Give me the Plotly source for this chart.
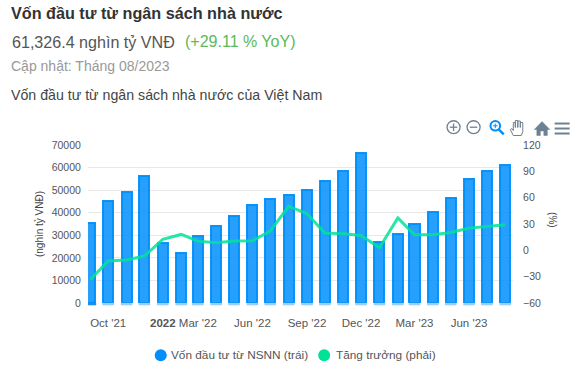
import datetime as dt
import plotly.graph_objects as go

W, H = 580, 375
L, R, T, B = 88, 512.7, 144.5, 302.7

months = ["2021-09-01","2021-10-01","2021-11-01","2021-12-01","2022-01-01","2022-02-01","2022-03-01","2022-04-01",
          "2022-05-01","2022-06-01","2022-07-01","2022-08-01","2022-09-01","2022-10-01","2022-11-01","2022-12-01",
          "2023-01-01","2023-02-01","2023-03-01","2023-04-01","2023-05-01","2023-06-01","2023-07-01","2023-08-01"]
capital = [35600,45000,49300,56400,26500,22300,29800,34200,38700,43500,46000,47800,
           50200,54000,58600,66400,27200,30400,35100,40400,46600,54900,58600,61326.4]
growth = [-33.4,-12.2,-11,-6.5,12.5,18.1,10.5,8.7,10.5,11,21.9,50,
          41.7,19.6,19,17,3,37,17.8,17.8,20.4,25.3,27.2,29.11]
tick_dates = ["2021-10-01","2022-01-01","2022-03-01","2022-06-01","2022-09-01","2022-12-01","2023-03-01","2023-06-01"]
tick_labels = ["Oct '21","<b>2022</b>","Mar '22","Jun '22","Sep '22","Dec '22","Mar '23","Jun '23"]
left_ticks = [0,10000,20000,30000,40000,50000,60000,70000]
right_ticks = [-60,-30,0,30,60,90,120]

FONT = "Liberation Sans, Arial, sans-serif"
BLUE, GREEN, ICON = "#008FFB", "#00E396", "#6E8192"
BAR_DAYS = 17
FOOT_DAYS = 19.5

def px(x): return (x - L) / (R - L)
def py(y): return (B - y) / (B - T)

def path(cmds):
    out = []
    for c in cmds:
        if c == "Z":
            out.append("Z")
        else:
            out.append(f"{c[0]}{px(c[1]):.5f},{py(c[2]):.5f}")
    return " ".join(out)

fig = go.Figure()
fig.add_bar(x=months, y=capital, name="Vốn đầu tư từ NSNN (trái)", width=1000*3600*24*BAR_DAYS,
            marker=dict(color="rgba(0,143,251,0.85)", line=dict(color="rgba(0,143,251,0.95)", width=2)),
            showlegend=False)
fig.add_scatter(x=months, y=growth, name="Tăng trưởng (phải)", yaxis="y2", mode="lines",
                line=dict(color="rgba(0,227,150,0.85)", width=3), showlegend=False)

shapes, ann = [], []

def text(x, y, s, size, color, anchor="left", bold=False, angle=0):
    ann.append(dict(xref="paper", yref="paper", x=px(x), y=py(y), text=f"<b>{s}</b>" if bold else s,
                    showarrow=False, xanchor=anchor, yanchor="middle", align=anchor, textangle=angle,
                    font=dict(family=FONT, size=size, color=color)))

text(9.5, 12, "Vốn đầu tư từ ngân sách nhà nước", 16.2, "#333333", bold=True)
text(10, 41, "61,326.4 nghìn tỷ VNĐ", 16.1, "#555555")
text(183, 41, "(+29.11 % YoY)", 16, "#5CB85C")
text(9.5, 65, "Cập nhật: Tháng 08/2023", 14, "#999999")
text(9.5, 94, "Vốn đầu tư từ ngân sách nhà nước của Việt Nam", 14.2, "#444444")
text(552, 220, "(%)", 10, "#444444", anchor="center", angle=90)

def circle(cx, cy, r, line=None, fill=None, lw=1.3):
    shapes.append(dict(type="circle", xref="paper", yref="paper", x0=px(cx-r), x1=px(cx+r), y0=py(cy+r), y1=py(cy-r),
                       line=dict(color=line or "rgba(0,0,0,0)", width=lw if line else 0), fillcolor=fill or "rgba(0,0,0,0)"))

def stroke(cmds, color=ICON, lw=1.3, fill=None):
    shapes.append(dict(type="path", xref="paper", yref="paper", path=path(cmds),
                       line=dict(color=color, width=lw), fillcolor=fill or "rgba(0,0,0,0)"))

# pale foot under each bar
half = dt.timedelta(days=FOOT_DAYS / 2)
for i, m in enumerate(months):
    d = dt.datetime.fromisoformat(m)
    shapes.append(dict(type="rect", xref="x", yref="paper", x0=(d - half).isoformat(), x1=(d + half).isoformat(),
                       y0=py(305), y1=py(302.6), line=dict(width=0),
                       fillcolor="#1A8FEF" if i == 0 else "#97CFF8"))

# legend
circle(160.7, 355, 6, fill=BLUE)
text(169, 355, "Vốn đầu tư từ NSNN (trái)", 11.8, "#555555")
circle(324, 355, 6, fill=GREEN)
text(333.5, 355, "Tăng trưởng (phải)", 11.8, "#555555")

# toolbar
circle(453.3, 126.7, 6.5, line=ICON)
stroke([("M",449.5,126.7),("L",457,126.7)])
stroke([("M",453.3,123),("L",453.3,130.5)])
circle(473.3, 126.7, 6.5, line=ICON)
stroke([("M",469.5,126.7),("L",477,126.7)])
circle(495, 125.3, 4.8, line=BLUE, lw=2)
stroke([("M",498.6,129),("L",503.5,133.8)], BLUE, 2.4)
stroke([("M",492.6,125.3),("L",497.4,125.3)], BLUE, 1)
stroke([("M",495,123),("L",495,127.6)], BLUE, 1)
stroke([("M",513,135),("L",510,129),("L",511.5,128),("L",513,130),("L",513,122),("L",515,122),("L",515,127),
        ("L",515,120),("L",517.5,120),("L",517.5,127),("L",517.5,120.5),("L",520,120.5),("L",520,127),
        ("L",520,122),("L",522.5,122),("L",522.5,131),("L",521,135),"Z"], ICON, 1)
stroke([("M",534,129),("L",541.7,121),("L",549.5,129),("L",547,129),("L",547,135),("L",543.5,135),("L",543.5,130.5),
        ("L",540,130.5),("L",540,135),("L",536.5,135),("L",536.5,129),"Z"], ICON, 0.5, ICON)
for yy in (123, 128, 133):
    stroke([("M",554.3,yy),("L",569.3,yy)], ICON, 2)

fig.update_layout(
    width=W, height=H, autosize=False,
    margin=dict(l=L, r=W-R, t=T, b=H-B, pad=0),
    paper_bgcolor="white", plot_bgcolor="white",
    font=dict(family=FONT, size=11, color="#555555"),
    bargap=0, showlegend=False, shapes=shapes, annotations=ann,
    xaxis=dict(type="date", range=["2021-08-28","2023-08-14"], tickmode="array", tickvals=tick_dates, ticktext=tick_labels,
               showgrid=False, zeroline=False, showline=False, ticks="outside", ticklen=9, tickcolor="rgba(0,0,0,0)",
               tickfont=dict(size=11.5, color="#555555")),
    yaxis=dict(range=[0,70000], tickmode="array", tickvals=left_ticks, tickformat="d", showgrid=True, gridcolor="#E8E8E8", gridwidth=1,
               zeroline=False, showline=False, ticks="outside", ticklen=4, tickcolor="rgba(0,0,0,0)",
               tickfont=dict(size=10.5, color="#555555"),
               title=dict(text="(nghìn tỷ VNĐ)", standoff=6, font=dict(size=10, color="#444444"))),
    yaxis2=dict(range=[-60,120], tickmode="array", tickvals=right_ticks, overlaying="y", side="right", showgrid=False,
                zeroline=False, showline=False, ticks="outside", ticklen=7, tickcolor="rgba(0,0,0,0)",
                tickfont=dict(size=10.5, color="#555555")),
)
fig.write_html("out.html", config=dict(displayModeBar=False), post_script="document.body.style.margin='0';")
